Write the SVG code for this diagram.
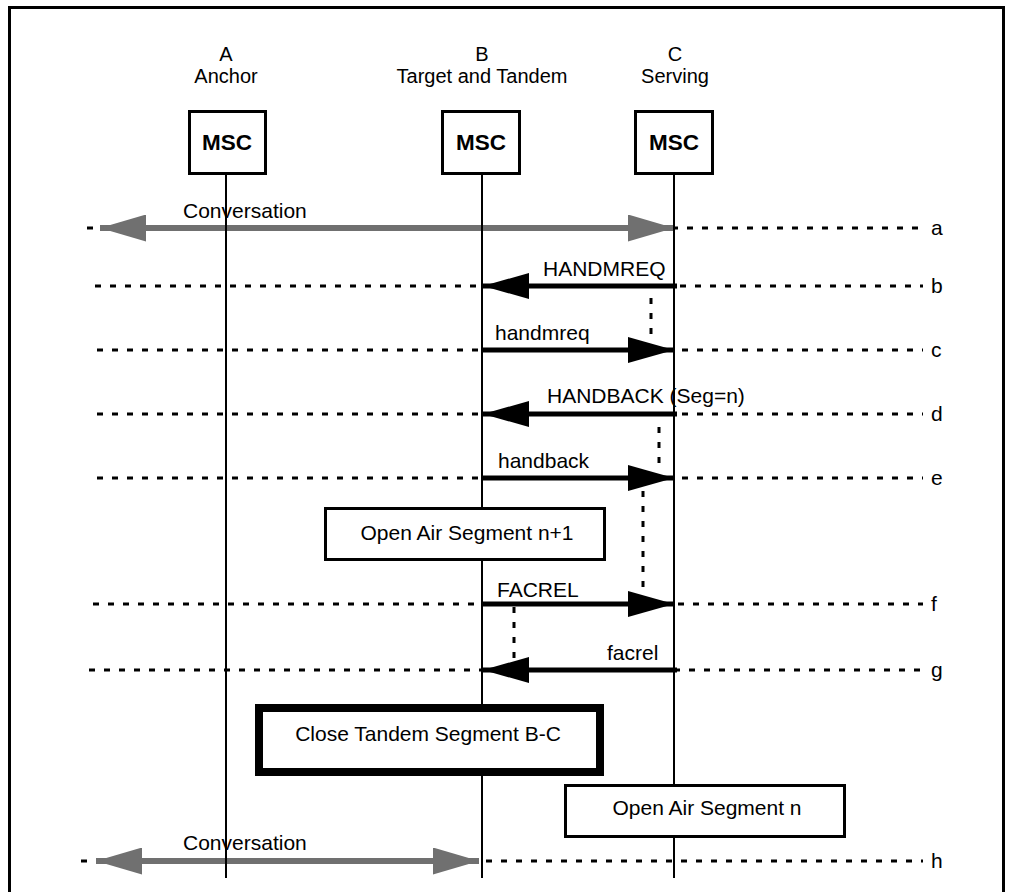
<svg xmlns="http://www.w3.org/2000/svg" width="1011" height="892" viewBox="0 0 1011 892">
<style>
  text { font-family: "Liberation Sans", Arial, Helvetica, sans-serif; fill: #000; }
  .hdr { font-size: 20px; text-anchor: middle; }
  .msc { font-size: 22.5px; font-weight: bold; text-anchor: middle; }
  .lbl { font-size: 21px; }
  .row { font-size: 21px; }
  .life { stroke: #000; stroke-width: 2; fill: none; }
  .dot { stroke: #000; stroke-width: 3; stroke-dasharray: 6 9; fill: none; }
  .msg { stroke: #000; stroke-width: 5; fill: none; }
  .conv { stroke: #707070; stroke-width: 6; fill: none; }
  .box { fill: #fff; stroke: #000; stroke-width: 3; }
  .thick { fill: #fff; stroke: #000; stroke-width: 8; }
  .frame { fill: none; stroke: #000; stroke-width: 3; }
</style>
<defs>
  <marker id="ah" markerUnits="userSpaceOnUse" markerWidth="46" markerHeight="26" viewBox="0 0 46 26" refX="46" refY="13" orient="auto-start-reverse">
    <path d="M0,0 L46,13 L0,26 z" fill="#000"/>
  </marker>
  <marker id="gh" markerUnits="userSpaceOnUse" markerWidth="46" markerHeight="27" viewBox="0 0 46 27" refX="46" refY="13.5" orient="auto-start-reverse">
    <path d="M0,0 L46,13.5 L0,27 z" fill="#707070"/>
  </marker>
</defs>

<path class="frame" d="M9.5,895 V7.5 H1003.5 V895"/>

<g id="rows">
  <line class="dot" x1="87" y1="228" x2="923" y2="228"/>
  <line class="dot" x1="95" y1="286" x2="923" y2="286"/>
  <line class="dot" x1="97" y1="350" x2="923" y2="350"/>
  <line class="dot" x1="97" y1="414" x2="923" y2="414"/>
  <line class="dot" x1="97" y1="478" x2="923" y2="478"/>
  <line class="dot" x1="93" y1="604" x2="923" y2="604"/>
  <line class="dot" x1="89" y1="670" x2="923" y2="670"/>
  <line class="dot" x1="81" y1="861" x2="923" y2="861"/>
  <text class="row" x="931" y="235">a</text>
  <text class="row" x="931" y="293">b</text>
  <text class="row" x="931" y="357">c</text>
  <text class="row" x="931" y="421">d</text>
  <text class="row" x="931" y="485">e</text>
  <text class="row" x="931" y="611">f</text>
  <text class="row" x="931" y="677">g</text>
  <text class="row" x="931" y="868">h</text>
</g>

<g id="conversations">
  <line class="conv" x1="100" y1="228" x2="674" y2="228" marker-start="url(#gh)" marker-end="url(#gh)"/>
  <text class="lbl" x="183" y="218">Conversation</text>
  <line class="conv" x1="96" y1="861" x2="479" y2="861" marker-start="url(#gh)" marker-end="url(#gh)"/>
  <text class="lbl" x="183" y="850">Conversation</text>
</g>

<g id="lifelines">
  <line class="life" x1="226" y1="174" x2="226" y2="878"/>
  <line class="life" x1="482" y1="174" x2="482" y2="878"/>
  <line class="life" x1="674" y1="174" x2="674" y2="878"/>
</g>

<g id="node-A">
  <text class="hdr" x="226" y="61">A</text>
  <text class="hdr" x="226" y="83">Anchor</text>
  <rect class="box" x="189.5" y="111.5" width="76" height="62"/>
  <text class="msc" x="227" y="150">MSC</text>
</g>
<g id="node-B">
  <text class="hdr" x="482" y="61">B</text>
  <text class="hdr" x="482" y="83">Target and Tandem</text>
  <rect class="box" x="442.5" y="111.5" width="77" height="62"/>
  <text class="msc" x="481" y="150">MSC</text>
</g>
<g id="node-C">
  <text class="hdr" x="675" y="61">C</text>
  <text class="hdr" x="675" y="83">Serving</text>
  <rect class="box" x="635.5" y="111.5" width="77" height="62"/>
  <text class="msc" x="674" y="150">MSC</text>
</g>

<g id="connectors">
  <line class="msg" x1="677" y1="286" x2="483" y2="286" marker-end="url(#ah)"/>
  <text class="lbl" x="543" y="276">HANDMREQ</text>
  <line class="dot" x1="651" y1="298" x2="651" y2="340"/>

  <line class="msg" x1="482" y1="350" x2="674" y2="350" marker-end="url(#ah)"/>
  <text class="lbl" x="495" y="340">handmreq</text>

  <line class="msg" x1="677" y1="414" x2="483" y2="414" marker-end="url(#ah)"/>
  <text class="lbl" x="547" y="403">HANDBACK (Seg=n)</text>
  <line class="dot" x1="659" y1="427" x2="659" y2="467"/>

  <line class="msg" x1="482" y1="478" x2="674" y2="478" marker-end="url(#ah)"/>
  <text class="lbl" x="498" y="468">handback</text>
  <line class="dot" x1="643" y1="491" x2="643" y2="593"/>

  <line class="msg" x1="482" y1="604" x2="674" y2="604" marker-end="url(#ah)"/>
  <text class="lbl" x="497" y="597">FACREL</text>
  <line class="dot" x1="514" y1="607" x2="514" y2="660"/>

  <line class="msg" x1="677" y1="670" x2="483" y2="670" marker-end="url(#ah)"/>
  <text class="lbl" x="607" y="660">facrel</text>
</g>

<g id="open-air-n1">
  <rect class="box" x="325.5" y="508.5" width="279" height="51"/>
  <text class="lbl" x="467" y="540" text-anchor="middle">Open Air Segment n+1</text>
</g>
<g id="close-tandem">
  <rect class="thick" x="259" y="708" width="341" height="64"/>
  <text class="lbl" x="428" y="741" text-anchor="middle">Close Tandem Segment B-C</text>
</g>
<g id="open-air-n">
  <rect class="box" x="565.5" y="785.5" width="279" height="51"/>
  <text class="lbl" x="707" y="815" text-anchor="middle">Open Air Segment n</text>
</g>
</svg>
